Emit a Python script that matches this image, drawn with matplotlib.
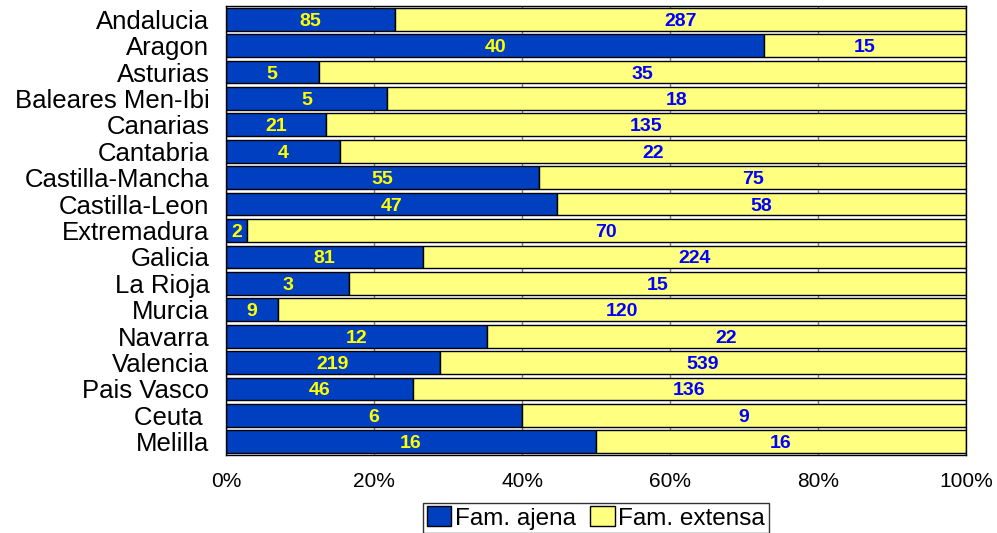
import matplotlib
matplotlib.use("Agg")
import matplotlib.pyplot as plt
import numpy as np

regions = ["Andalucia", "Aragon", "Asturias", "Baleares Men-Ibi", "Canarias", "Cantabria",
           "Castilla-Mancha", "Castilla-Leon", "Extremadura", "Galicia", "La Rioja", "Murcia",
           "Navarra", "Valencia", "Pais Vasco", "Ceuta ", "Melilla"]
ajena = [85, 40, 5, 5, 21, 4, 55, 47, 2, 81, 3, 9, 12, 219, 46, 6, 16]
extensa = [287, 15, 35, 18, 135, 22, 75, 58, 70, 224, 15, 120, 22, 539, 136, 9, 16]
series_names = ["Fam. ajena", "Fam. extensa"]
xticks = [0, 20, 40, 60, 80, 100]

plt.rcParams['font.family'] = ['Liberation Sans', 'DejaVu Sans']

fig = plt.figure(figsize=(9.97, 5.33), dpi=100)
ax = fig.add_axes([226/997, 1-455/533, (966-226)/997, (455-6)/533])

a = np.array(ajena, float)
e = np.array(extensa, float)
tot = a + e
pa = a / tot * 100
pe = e / tot * 100
y = np.arange(len(regions))

blue = "#0040C0"
yellow = "#FFFF80"
h = 0.86
ax.barh(y, pa, height=h, color=blue, edgecolor="black", linewidth=1.0, label=series_names[0], zorder=2)
ax.barh(y, pe, left=pa, height=h, color=yellow, edgecolor="black", linewidth=1.0, label=series_names[1], zorder=2)

for i in range(len(regions)):
    ax.text(pa[i] / 2, y[i], str(ajena[i]), ha="center", va="center_baseline", color="#FFFF00",
            fontsize=14, fontweight="bold", zorder=3)
    ax.text(pa[i] + pe[i] / 2, y[i], str(extensa[i]), ha="center", va="center_baseline", color="#0000FF",
            fontsize=14, fontweight="bold", zorder=3)

ax.set_xlim(0, 100)
ax.set_ylim(len(regions) - 0.5, -0.5)
ax.set_yticks(y)
ax.set_yticklabels(regions, fontsize=18.5)
ax.set_xticks(xticks)
ax.set_xticklabels([f"{t}%" for t in xticks], fontsize=15)
ax.tick_params(axis="y", length=0, pad=12)
ax.tick_params(axis="x", length=0, pad=12)
ax.grid(axis="x", color="#808080", linewidth=1.0, zorder=0)
ax.set_axisbelow(True)
for s in ax.spines.values():
    s.set_color("black")
    s.set_linewidth(1.0)

leg = ax.legend(loc="center", bbox_to_anchor=(596/997, 1-518/533), bbox_transform=fig.transFigure,
                ncol=2, fontsize=17.5, frameon=True, fancybox=False, edgecolor="black",
                handlelength=1.0, handleheight=0.9, handletextpad=0.15, columnspacing=0.6,
                borderpad=0.15, borderaxespad=0)
leg.get_frame().set_linewidth(1.0)

fig.savefig("out.png", dpi=100)
